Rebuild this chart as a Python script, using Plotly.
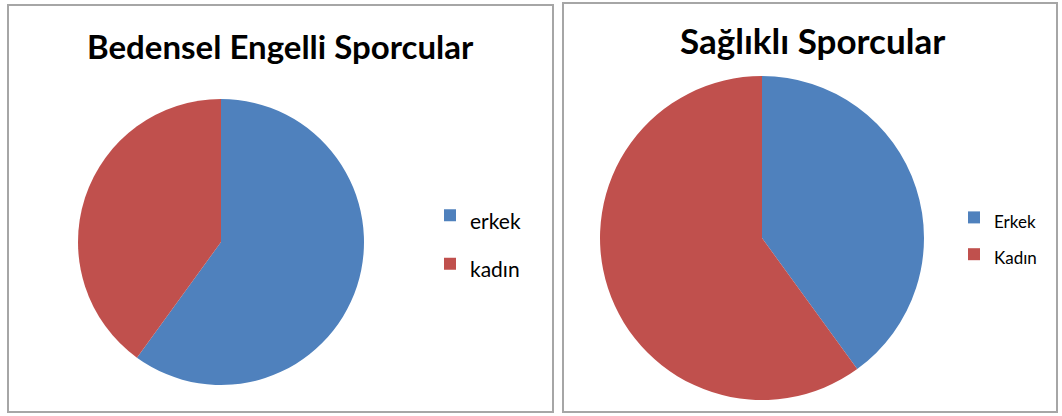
import plotly.graph_objects as go

W, H = 1062, 416

left_title = "Bedensel Engelli Sporcular"
left_labels = ["erkek", "kadın"]
left_values = [60, 40]

right_title = "Sağlıklı Sporcular"
right_labels = ["Erkek", "Kadın"]
right_values = [40, 60]

colors = ["#4F81BD", "#C0504D"]


def px_x(v):
    return v / W


def px_y(v):
    return 1 - v / H


fig = go.Figure()

fig.add_trace(go.Pie(
    labels=[f"<span style='font-size:21px'>{l}</span>" for l in left_labels],
    values=left_values,
    sort=False, direction="clockwise", rotation=0,
    marker=dict(colors=colors, line=dict(width=0)),
    textinfo="none", hoverinfo="label+percent",
    domain=dict(x=[px_x(78), px_x(364)], y=[px_y(385), px_y(99)]),
    legend="legend",
))

fig.add_trace(go.Pie(
    labels=[f"<span style='font-size:17px'>{l}</span>" for l in right_labels],
    values=right_values,
    sort=False, direction="clockwise", rotation=0,
    marker=dict(colors=colors, line=dict(width=0)),
    textinfo="none", hoverinfo="label+percent",
    domain=dict(x=[px_x(598), px_x(926)], y=[px_y(400), px_y(76)]),
    legend="legend2",
))

border = dict(color="#A6A6A6", width=2)
fig.add_shape(type="rect", xref="paper", yref="paper",
              x0=px_x(8), x1=px_x(553), y0=px_y(412), y1=px_y(5), line=border)
fig.add_shape(type="rect", xref="paper", yref="paper",
              x0=px_x(563), x1=px_x(1057), y0=px_y(412), y1=px_y(3), line=border)

title_font = dict(family="Lato", size=33, color="#000000", weight="bold")
fig.add_annotation(text=left_title, xref="paper", yref="paper",
                   x=px_x(280), y=px_y(46), showarrow=False,
                   xanchor="center", yanchor="middle", font=title_font)
fig.add_annotation(text=right_title, xref="paper", yref="paper",
                   x=px_x(812), y=px_y(40), showarrow=False,
                   xanchor="center", yanchor="middle",
                   font=dict(title_font, size=35))

fig.update_layout(
    width=W, height=H,
    margin=dict(l=0, r=0, t=0, b=0),
    paper_bgcolor="white", plot_bgcolor="white",
    font=dict(family="Lato", color="#000000"),
    legend=dict(x=px_x(430), y=px_y(186), xanchor="left", yanchor="top",
                font=dict(size=35, family="Lato"), bgcolor="rgba(0,0,0,0)"),
    legend2=dict(x=px_x(954), y=px_y(194), xanchor="left", yanchor="top",
                 font=dict(size=26, family="Lato"), bgcolor="rgba(0,0,0,0)"),
)

fig.write_html("out.html",
               config={"displayModeBar": False},
               post_script="document.body.style.margin='0';document.body.style.overflow='hidden';")
